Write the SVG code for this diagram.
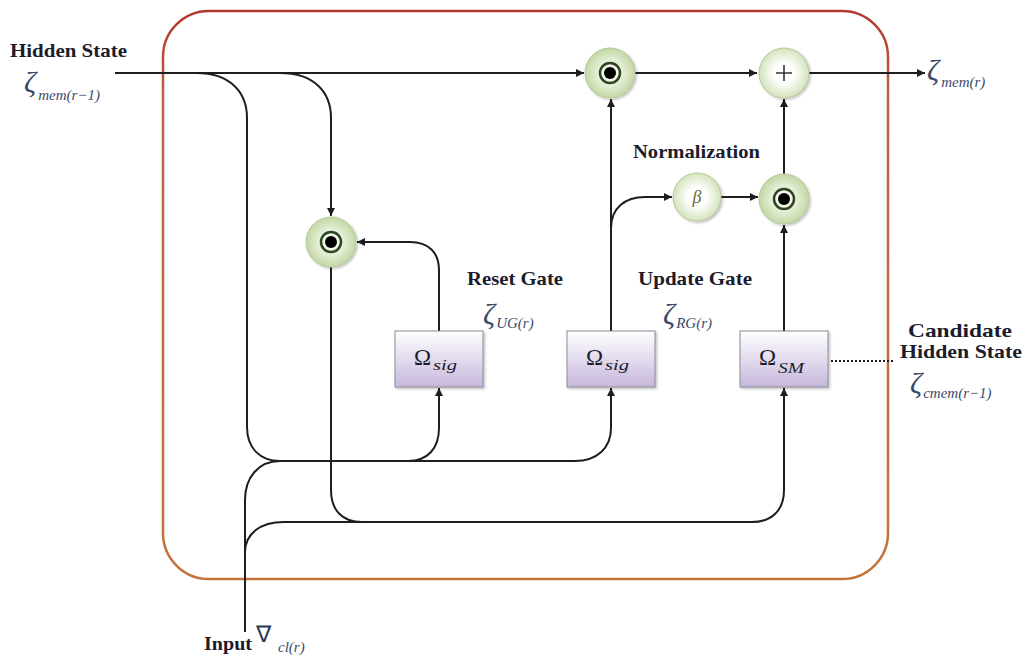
<svg xmlns="http://www.w3.org/2000/svg" width="1025" height="658" viewBox="0 0 1025 658">
<defs>
<style>
.ln{fill:none;stroke:#1e1e1e;stroke-width:2}
.arr{marker-end:url(#ah)}
.lbl{font-family:"Liberation Serif",serif;font-weight:bold;font-size:19px;fill:#1c1c2c}
.math{font-family:"Liberation Serif",serif;font-style:italic;fill:#3b4a6b}
.zeta{font-size:30px}
.sub{font-size:15px}
.box{fill:url(#boxg);stroke:#8a8a98;stroke-width:1;filter:url(#sh)}
.cir{fill:url(#cirg);stroke:#b6c99a;stroke-width:1;filter:url(#sh)}
.cirl{fill:url(#cirl);stroke:#b6c99a;stroke-width:1;filter:url(#sh)}
.ring{fill:none;stroke:#2c4720;stroke-width:2.5}
.om{font-family:"Liberation Serif",serif;font-size:23px;fill:#1c1c2c}
.oms{font-family:"Liberation Serif",serif;font-style:italic;font-size:15px;fill:#1c1c2c}
</style>
<marker id="ah" viewBox="0 0 10 10" refX="10" refY="5" markerWidth="8" markerHeight="8" markerUnits="userSpaceOnUse" orient="auto">
<path d="M0,0 L10,5 L0,10 z" fill="#1e1e1e"/>
</marker>
<linearGradient id="boxg" x1="0" y1="0" x2="0" y2="1">
<stop offset="0" stop-color="#ffffff"/>
<stop offset="1" stop-color="#c7b8dc"/>
</linearGradient>
<radialGradient id="cirg" cx="0.5" cy="0.5" r="0.5">
<stop offset="0.3" stop-color="#f4f8ec"/>
<stop offset="1" stop-color="#c2d7a4"/>
</radialGradient>
<radialGradient id="cirl" cx="0.5" cy="0.5" r="0.5">
<stop offset="0.4" stop-color="#ffffff"/>
<stop offset="1" stop-color="#d3e3bc"/>
</radialGradient>
<linearGradient id="frame" x1="0" y1="0" x2="0" y2="1">
<stop offset="0" stop-color="#b2372e"/>
<stop offset="0.15" stop-color="#c0603a"/>
<stop offset="1" stop-color="#c4733a"/>
</linearGradient>
<filter id="sh" x="-20%" y="-20%" width="150%" height="150%">
<feDropShadow dx="1.5" dy="1.5" stdDeviation="1.2" flood-color="#000" flood-opacity="0.25"/>
</filter>
</defs>

<rect id="frame-box" x="163" y="11" width="725" height="568" rx="46" ry="46" fill="none" stroke="url(#frame)" stroke-width="2.5"/>

<g id="connectors">
<path class="ln arr" d="M115,73 H584"/>
<path class="ln arr" d="M635,73 H757"/>
<path class="ln arr" d="M808,73 H925"/>
<path class="ln" d="M196,73 C230,73 247,92 247,118 V427 C247,448 260,461 280,461"/>
<path class="ln arr" d="M280,73 C314,73 331,92 331,118 V216"/>
<path class="ln arr" d="M331,267 V490 C331,510 342,522 362,522 H752 C772,522 784,510 784,490 V388"/>
<path class="ln arr" d="M245,632 V500 C245,478 258,461 280,461 H575 C597,461 611,448 611,428 V388"/>
<path class="ln" d="M245,552 C245,534 260,522 284,522 H362"/>
<path class="ln arr" d="M408,461 C428,461 439,448 439,428 V388"/>
<path class="ln arr" d="M439,331 V270 C439,252 428,242 410,242 H357"/>
<path class="ln arr" d="M611,331 V99"/>
<path class="ln arr" d="M611,228 C611,208 625,197 645,197 H672"/>
<path class="ln arr" d="M721,197 H758"/>
<path class="ln arr" d="M784,174 V99"/>
<path class="ln arr" d="M784,331 V225"/>
<path d="M831,361 H893" fill="none" stroke="#1e1e1e" stroke-width="2" stroke-dasharray="2,2"/>
</g>

<g id="hadamard-top">
<circle class="cir" cx="610" cy="73" r="25"/>
<circle class="ring" cx="610" cy="73" r="10"/>
<circle cx="610" cy="73" r="6" fill="#000"/>
</g>
<g id="plus-top">
<circle class="cirl" cx="784" cy="73" r="25"/>
<path d="M776,73 H792 M784,65 V81" stroke="#333" stroke-width="1.6"/>
</g>
<g id="hadamard-left">
<circle class="cir" cx="331" cy="242" r="25"/>
<circle class="ring" cx="331" cy="242" r="10"/>
<circle cx="331" cy="242" r="6" fill="#000"/>
</g>
<g id="beta">
<circle class="cirl" cx="697" cy="197" r="24"/>
<text x="697" y="203" text-anchor="middle" font-family="Liberation Serif,serif" font-style="italic" font-size="18" fill="#6a6a30">β</text>
</g>
<g id="hadamard-right">
<circle class="cir" cx="784" cy="199" r="25"/>
<circle class="ring" cx="784" cy="199" r="10"/>
<circle cx="784" cy="199" r="6" fill="#000"/>
</g>

<g id="sig-reset">
<rect class="box" x="395" y="331" width="88" height="56"/>
<text class="om" x="414" y="365">Ω</text><text class="oms" x="433" y="370" textLength="24" lengthAdjust="spacingAndGlyphs">sig</text>
</g>
<g id="sig-update">
<rect class="box" x="567" y="331" width="88" height="56"/>
<text class="om" x="586" y="365">Ω</text><text class="oms" x="605" y="370" textLength="24" lengthAdjust="spacingAndGlyphs">sig</text>
</g>
<g id="sm-candidate">
<rect class="box" x="740" y="331" width="88" height="56"/>
<text class="om" x="759" y="365">Ω</text><text class="oms" x="778" y="373" textLength="26" lengthAdjust="spacingAndGlyphs">SM</text>
</g>

<g id="labels">
<text class="lbl" x="10" y="57" textLength="117" lengthAdjust="spacingAndGlyphs">Hidden State</text>
<text class="math" x="24" y="92"><tspan class="zeta">ζ</tspan><tspan class="sub" dx="2" dy="8">mem(r−1)</tspan></text>
<text class="math" x="927" y="80"><tspan class="zeta">ζ</tspan><tspan class="sub" dx="2" dy="7">mem(r)</tspan></text>
<text class="lbl" x="633" y="158" textLength="127" lengthAdjust="spacingAndGlyphs">Normalization</text>
<text class="lbl" x="467" y="285" textLength="96" lengthAdjust="spacingAndGlyphs">Reset Gate</text>
<text class="math" x="483" y="324"><tspan class="zeta">ζ</tspan><tspan class="sub" dx="1" dy="4">UG(r)</tspan></text>
<text class="lbl" x="638" y="285" textLength="114" lengthAdjust="spacingAndGlyphs">Update Gate</text>
<text class="math" x="663" y="324"><tspan class="zeta">ζ</tspan><tspan class="sub" dx="1" dy="4">RG(r)</tspan></text>
<text class="lbl" x="908" y="337" textLength="104" lengthAdjust="spacingAndGlyphs">Candidate</text>
<text class="lbl" x="900" y="358" textLength="122" lengthAdjust="spacingAndGlyphs">Hidden State</text>
<text class="math" x="910" y="393"><tspan class="zeta">ζ</tspan><tspan class="sub" dx="1" dy="5">cmem(r−1)</tspan></text>
<text class="lbl" x="204" y="650" textLength="48" lengthAdjust="spacingAndGlyphs">Input</text>
<text x="256" y="642" font-family="Liberation Serif,serif" font-size="23" fill="#2c3a5c">∇</text>
<text class="math sub" x="278" y="652">cl(r)</text>
</g>
</svg>
